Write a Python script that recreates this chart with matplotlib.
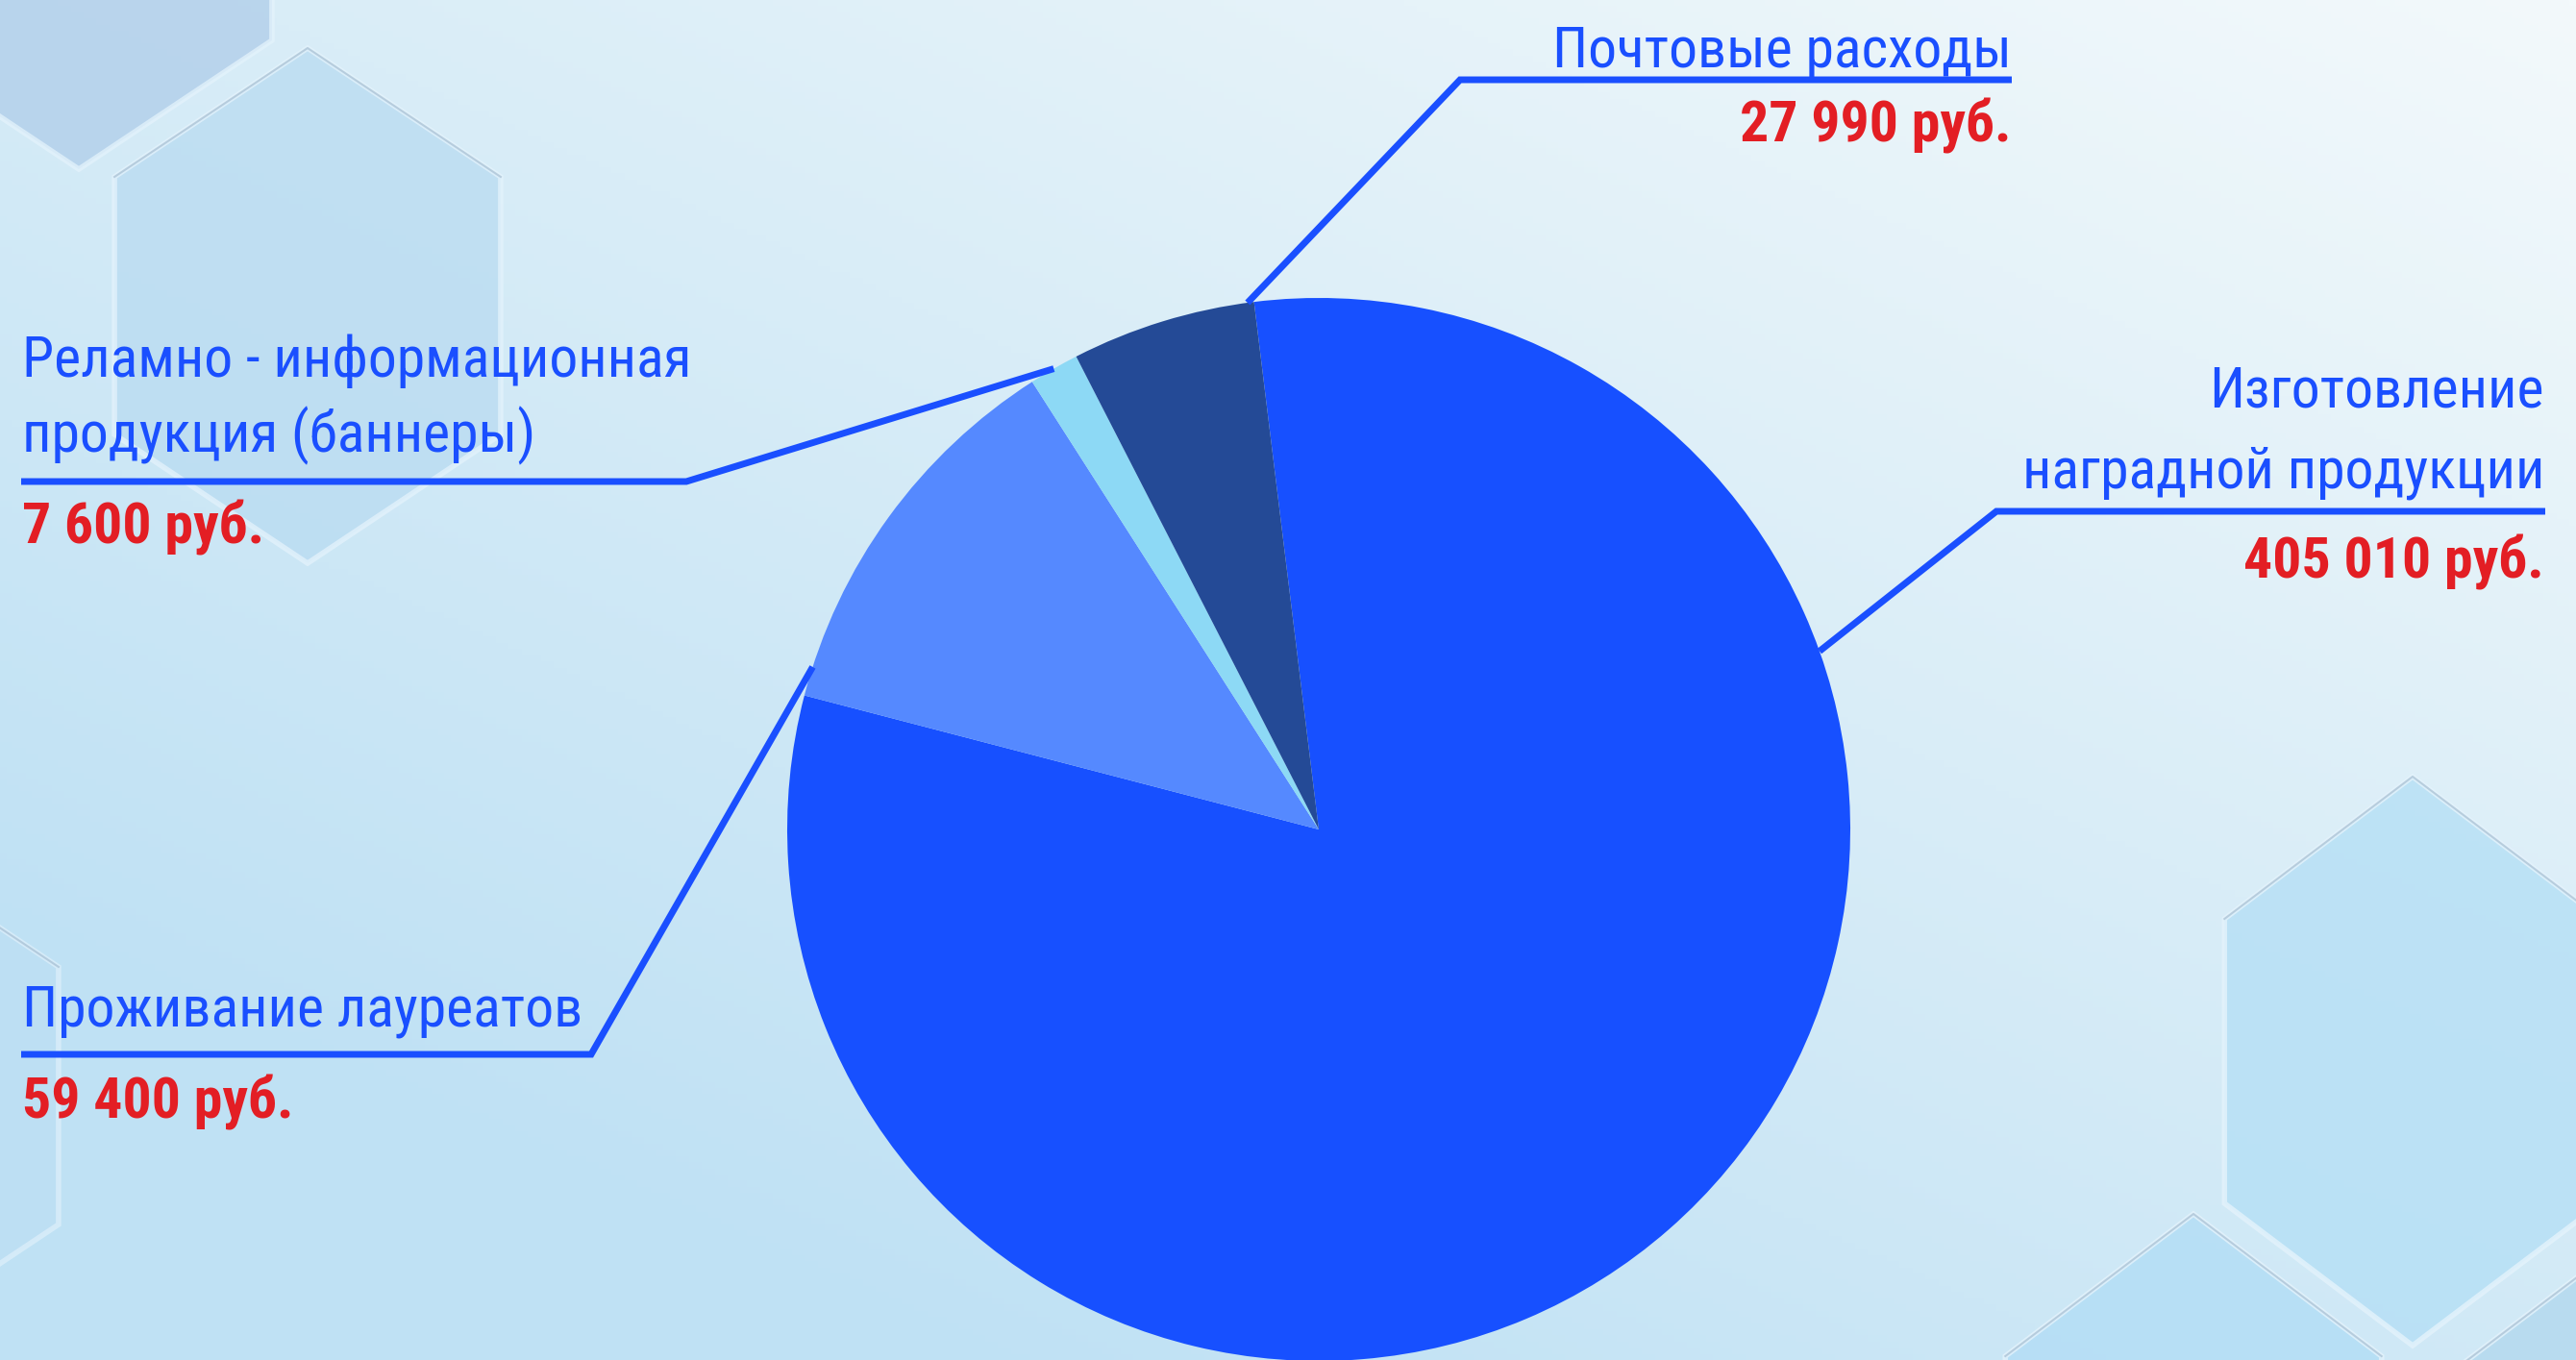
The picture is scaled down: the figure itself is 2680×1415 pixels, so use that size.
import numpy as np
import matplotlib.pyplot as plt
from matplotlib.patches import Polygon

plt.rcParams['font.family'] = ['Roboto Condensed', 'Liberation Sans', 'DejaVu Sans']

# data
categories = [["Изготовление", "наградной продукции"],
              ["Проживание лауреатов"],
              ["Реламно - информационная", "продукция (баннеры)"],
              ["Почтовые расходы"]]
values = [405010, 59400, 7600, 27990]
colors = ["#1750FF", "#5589FF", "#8DD9F5", "#244A96"]

W, H = 2680, 1415
cx, cy, r = 1372, 863, 553   # pie centre / radius in pixels (y down)

def py(y):
    return H - y

fig = plt.figure(figsize=(W / 100, H / 100), dpi=100)
ax = fig.add_axes([0, 0, 1, 1])

# -----------------------------------
# background gradient + hexagons
# -----------------------------------
xx, yy = np.meshgrid(np.linspace(0, 1, 400), np.linspace(0, 1, 220))
t = np.clip(0.55 * (1 - xx) + 0.65 * yy, 0, 1)[..., None]
light = np.array([0xF3, 0xF9, 0xFB]) / 255
dark = np.array([0xBF, 0xE1, 0xF4]) / 255
bg = light * (1 - t) + dark * t
ax.imshow(bg, extent=(0, W, 0, H), origin="upper", aspect="auto", zorder=0)

def hexagon(hx, hy, rx, ry, fc, alpha):
    ang = np.radians([90, 30, -30, -90, -150, 150])
    pts = [(hx + rx * np.cos(a), py(hy - ry * np.sin(a))) for a in ang]
    ax.add_patch(Polygon(pts, closed=True, fc=fc, ec="#E4F3FC", lw=4,
                         alpha=alpha, zorder=1))
    # shadow on upper right edges
    ax.plot([pts[5][0], pts[0][0], pts[1][0]], [pts[5][1], pts[0][1], pts[1][1]],
            color="#9DB6CB", lw=1.5, alpha=0.6, zorder=1)

hexagon(82, -92, 232, 268, "#AFCDE9", 0.75)
hexagon(320, 318, 232, 268, "#B9DBF1", 0.75)
hexagon(-140, 1140, 232, 268, "#BCDFF3", 0.6)
hexagon(2510, 1104, 226, 296, "#B5DFF5", 0.8)
hexagon(2282, 1559, 226, 296, "#B2DDF5", 0.8)
hexagon(2751, 1572, 226, 296, "#B2D8EE", 0.8)

# -----------------------------------
# pie
# -----------------------------------
wedges, _ = ax.pie(values, colors=colors, startangle=97, counterclock=False,
                   center=(cx, py(cy)), radius=r, wedgeprops=dict(linewidth=0))
for w in wedges:
    w.set_zorder(3)

ax.set_xlim(0, W)
ax.set_ylim(0, H)
ax.set_aspect("equal")
ax.axis("off")

# -----------------------------------
# labels with leader lines
# -----------------------------------
line_color = "#1A4FFF"
text_color = "#1A4FFF"
value_color = "#E31E24"

# text x, alignment, text baselines, rule y, rule x from/to, anchor angle, value baseline
layout = [
    (2647, "right", [424, 507], 532, (2077, 2648), 19.6, 602),
    (23, "left", [1067], 1097, (615, 22), 162.2, 1164),
    (23, "left", [392, 470], 501, (714, 22), 119.9, 566),
    (2093, "right", [70], 83, (1519, 2093), 97.7, 148),
]

for lines, val, (tx, ha, bases, ly, (x0, x1), ang, vb) in zip(categories, values, layout):
    a = np.radians(ang)
    axp = cx + r * np.cos(a)
    ayp = cy - r * np.sin(a)
    ax.plot([axp, x0, x1], [py(ayp), py(ly), py(ly)], color=line_color, lw=5,
            solid_joinstyle="miter", solid_capstyle="butt", zorder=4)
    for s, b in zip(lines, bases):
        ax.text(tx, py(b), s, ha=ha, va="baseline", fontsize=43,
                color=text_color, zorder=5)
    vtxt = f"{val:,}".replace(",", " ") + " руб."
    ax.text(tx, py(vb), vtxt, ha=ha, va="baseline", fontsize=43,
            fontweight="bold", color=value_color, zorder=5)

fig.savefig("out.png", dpi=100)
